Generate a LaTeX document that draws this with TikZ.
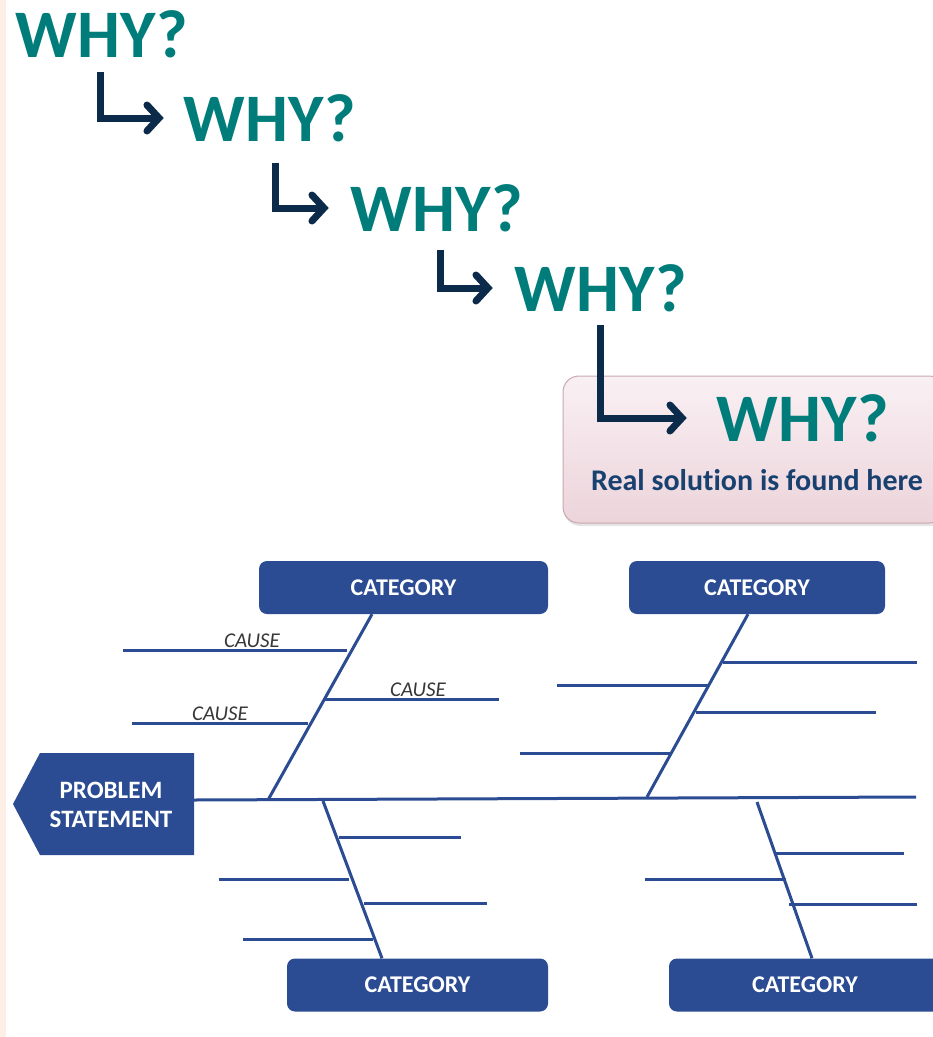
\documentclass[tikz,border=0pt]{standalone}
\usepackage{fontspec}
\setmainfont{Carlito}[Ligatures=NoCommon]
\usetikzlibrary{arrows.meta,shadows,positioning}

\definecolor{WhyTeal}{RGB}{0,125,122}
\definecolor{ArrowNavy}{RGB}{12,42,74}
\definecolor{BoneBlue}{RGB}{43,76,147}
\definecolor{NoteBlue}{RGB}{25,65,112}
\definecolor{Peach}{RGB}{253,238,230}
\definecolor{CauseGray}{RGB}{55,55,55}
\definecolor{SolTop}{RGB}{249,240,243}
\definecolor{SolBottom}{RGB}{236,212,219}
\definecolor{SolEdge}{RGB}{200,168,177}

\newcommand{\drawcause}[3]{% Parameters: left x, right x, level
  \draw[bone] (#1,#3) -- (#2,#3);
}
\newcommand{\drawwhy}[3]{% Parameters: name, x, y
  \node[why] (#1) at (#2,#3) {WHY?};
}
\newcommand{\drawstep}[3]{% Parameters: start, target, gap
  \draw[whyarrow] (#1) |- ([xshift=-#3]#2.west);
}

\tikzset{
  why/.style={text=WhyTeal,font=\fontsize{68}{68}\selectfont\bfseries,inner sep=0pt},
  whyarrow/.style={draw=ArrowNavy,line width=7pt,-{Straight Barb[length=12pt,width=26pt,line cap=round]}},
  solbox/.style={draw=SolEdge,line width=1pt,rounded corners=16pt,
    top color=SolTop,bottom color=SolBottom,
    drop shadow={shadow xshift=1pt,shadow yshift=-3pt,opacity=0.2}},
  note/.style={text=NoteBlue,font=\fontsize{30}{30}\selectfont\bfseries,inner sep=0pt},
  bone/.style={draw=BoneBlue,line width=3pt},
  cat/.style={fill=BoneBlue,rounded corners=8pt,minimum height=53pt,text=white,
    font=\fontsize{24}{24}\selectfont\bfseries},
  cause/.style={text=CauseGray,font=\fontsize{21}{21}\selectfont\itshape,inner sep=1pt}
}

\begin{document}
\begin{tikzpicture}[x=1pt,y=-1pt]
  \clip (0,0) rectangle (933,1037);
  \fill[white] (0,0) rectangle (933,1037);
  \fill[Peach] (0,0) rectangle (6,1037);

  % the five whys
  \node[solbox,minimum width=382pt,minimum height=147pt] (sol) at (754,449.5) {};
  \drawwhy{why1}{102}{34}
  \drawwhy{why2}{270}{118}
  \drawwhy{why3}{437}{208}
  \drawwhy{why4}{601}{288}
  \drawwhy{why5}{803}{418}
  \node[note] (real) at (757,480) {Real solution is found here};
  \coordinate (s1) at (100,72);
  \coordinate (s2) at (275,163);
  \coordinate (s3) at (440,250);
  \coordinate (s4) at (600,325);
  \drawstep{s1}{why2}{20pt}
  \drawstep{s2}{why3}{22pt}
  \drawstep{s3}{why4}{22pt}
  \drawstep{s4}{why5}{30pt}

  % fishbone
  \fill[BoneBlue] (40,753) -- (194,753) -- (194,855) -- (40,855) -- (13,804) -- cycle;
  \node[text=white,font=\fontsize{25}{29}\selectfont\bfseries,align=center] (prob) at (111,805) {PROBLEM\\STATEMENT};
  \coordinate (head) at (194,800);
  \coordinate (tail) at (916,797);
  \draw[bone] (head) -- (tail);

  \node[cat,minimum width=289pt] (cat1) at (403.5,587.5) {CATEGORY};
  \node[cat,minimum width=256pt] (cat2) at (757,587.5) {CATEGORY};
  \node[cat,minimum width=261pt] (cat3) at (417.5,985) {CATEGORY};
  \node[cat,minimum width=272pt] (cat4) at (805,985) {CATEGORY};

  \coordinate (j1) at (268,800);
  \coordinate (j2) at (647,797);
  \coordinate (j3) at (323,801);
  \coordinate (j4) at (757,802);
  \draw[bone] ([xshift=-31.5pt]cat1.south) -- (j1);
  \draw[bone] ([xshift=-9pt]cat2.south) -- (j2);
  \draw[bone] (j3) -- ([xshift=-35.5pt]cat3.north);
  \draw[bone] (j4) -- ([xshift=7pt]cat4.north);

  \drawcause{123}{347}{650}
  \drawcause{132}{308}{723}
  \drawcause{325}{499}{699}
  \node[cause,above] (cause1) at (252,649) {CAUSE};
  \node[cause,above] (cause2) at (220,722) {CAUSE};
  \node[cause,above] (cause3) at (418,698) {CAUSE};

  \drawcause{723}{917}{662}
  \drawcause{557}{709}{685}
  \drawcause{696}{876}{712}
  \drawcause{520}{672}{753}

  \drawcause{339}{461}{837}
  \drawcause{219}{349}{879}
  \drawcause{364}{487}{903}
  \drawcause{243}{373}{939}

  \drawcause{774}{904}{853}
  \drawcause{645}{786}{879}
  \drawcause{789}{917}{904}
\end{tikzpicture}
\end{document}
